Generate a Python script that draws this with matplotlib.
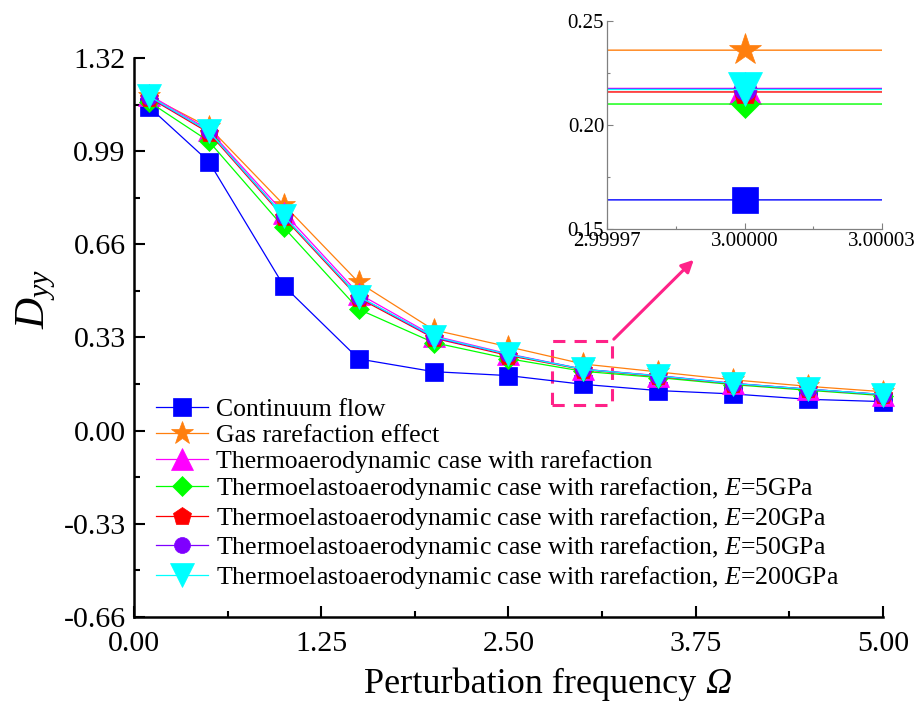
import matplotlib
matplotlib.use("Agg")
import matplotlib.pyplot as plt
from matplotlib.patches import Rectangle, FancyArrowPatch
from matplotlib.ticker import FixedLocator, MultipleLocator

plt.rcParams['font.family'] = ['Liberation Serif', 'DejaVu Serif']
plt.rcParams['mathtext.fontset'] = 'custom'
plt.rcParams['mathtext.rm'] = 'Liberation Serif'
plt.rcParams['mathtext.it'] = 'Liberation Serif:italic'

# Perturbation frequency and damping coefficient D_yy for each case
omega = [0.1, 0.5, 1.0, 1.5, 2.0, 2.5, 3.0, 3.5, 4.0, 4.5, 5.0]
continuum = [1.147, 0.953, 0.513, 0.254, 0.209, 0.195, 0.164, 0.142, 0.130, 0.111, 0.103]
rarefied = [1.185, 1.075, 0.800, 0.525, 0.357, 0.297, 0.236, 0.208, 0.180, 0.157, 0.138]
thermo = [1.190, 1.065, 0.772, 0.485, 0.336, 0.272, 0.2176, 0.195, 0.168, 0.147, 0.128]
e5 = [1.165, 1.025, 0.720, 0.430, 0.312, 0.255, 0.2101, 0.188, 0.163, 0.143, 0.124]
e20 = [1.180, 1.055, 0.755, 0.470, 0.328, 0.266, 0.2159, 0.192, 0.166, 0.146, 0.127]
e50 = [1.182, 1.060, 0.760, 0.475, 0.330, 0.270, 0.2173, 0.194, 0.167, 0.147, 0.128]
e200 = [1.185, 1.060, 0.760, 0.475, 0.333, 0.270, 0.2171, 0.194, 0.167, 0.147, 0.128]

labels = [
    'Continuum flow',
    'Gas rarefaction effect',
    'Thermoaerodynamic case with rarefaction',
    'Thermoelastoaerodynamic case with rarefaction, $E$=5GPa',
    'Thermoelastoaerodynamic case with rarefaction, $E$=20GPa',
    'Thermoelastoaerodynamic case with rarefaction, $E$=50GPa',
    'Thermoelastoaerodynamic case with rarefaction, $E$=200GPa',
]
series = [continuum, rarefied, thermo, e5, e20, e50, e200]
colors = ['#0000FF', '#FF7F0E', '#FF00FF', '#00FF00', '#FF0000', '#7F00FF', '#00FFFF']
markers = ['s', '*', '^', 'D', 'p', 'o', 'v']
msizes = [13, 17, 16, 10, 13.5, 11.5, 17]

x_ticks = [0.00, 1.25, 2.50, 3.75, 5.00]
y_ticks = [-0.66, -0.33, 0.00, 0.33, 0.66, 0.99, 1.32]
inset_x_ticks = [2.99997, 3.00000, 3.00003]
inset_y_ticks = [0.15, 0.20, 0.25]

fig = plt.figure(figsize=(9.15, 7.02), dpi=100)
ax = fig.add_axes([0.1464, 0.1211, 0.8186, 0.7963])

for ys, lab, c, m, ms in zip(series, labels, colors, markers, msizes):
    ax.plot(omega, ys, color=c, lw=0.9, marker=m, ms=ms, mec=c, mew=0.5,
            label=lab, clip_on=False)

ax.set_xlim(0, 5)
ax.set_ylim(-0.66, 1.32)
ax.xaxis.set_major_locator(FixedLocator(x_ticks))
ax.xaxis.set_minor_locator(MultipleLocator(0.625))
ax.yaxis.set_major_locator(FixedLocator(y_ticks))
ax.yaxis.set_minor_locator(MultipleLocator(0.165))
ax.set_xticklabels([f'{v:.2f}' for v in x_ticks])
ax.set_yticklabels([f'{v:.2f}' for v in y_ticks])
ax.tick_params(which='major', direction='in', length=8, width=1.5, labelsize=21.5)
ax.tick_params(axis='y', which='major', pad=6)
ax.tick_params(axis='x', which='major', pad=10)
ax.tick_params(which='minor', direction='in', length=4, width=1.5)
for s in ['top', 'right']:
    ax.spines[s].set_visible(False)
for s in ['left', 'bottom']:
    ax.spines[s].set_linewidth(1.8)

ax.set_ylabel('$D_{yy}$', fontsize=31, labelpad=4)
ax.yaxis.set_label_coords(-0.102, 0.57)
xl = ax.set_xlabel('Perturbation frequency ', fontsize=26)
ax.xaxis.set_label_coords(0.535, -0.09)
ax.annotate('Ω', xy=(1, 0), xycoords=xl, va='bottom', ha='left',
            fontsize=26, style='italic')

leg = ax.legend(loc='upper left', bbox_to_anchor=(0.03, 0.391), frameon=False,
                fontsize=18.5, handlelength=2.0, handletextpad=0.3,
                labelspacing=0.1, borderpad=0, borderaxespad=0)

# dashed box around the Omega = 3 points and the arrow to the zoomed view
pink = '#FF2288'
ax.add_patch(Rectangle((2.79, 0.09), 0.40, 0.227, fill=False, ec=pink,
                       lw=2.2, ls=(0, (4, 3))))
arrow = FancyArrowPatch((3.19, 0.317), (3.75, 0.612), transform=ax.transData,
                        arrowstyle='-|>', mutation_scale=18, color=pink, lw=2.2)
ax.add_patch(arrow)

# zoomed view at Omega = 3
axi = fig.add_axes([0.6634, 0.6738, 0.3006, 0.2962])
for ys, c, m, ms in zip(series, colors, markers, msizes):
    axi.plot(omega, ys, color=c, lw=1.0, marker=m, ms=ms * 1.4, mec=c, mew=0.5)
axi.set_xlim(2.99997, 3.00003)
axi.set_ylim(0.15, 0.25)
axi.xaxis.set_major_locator(FixedLocator(inset_x_ticks))
axi.xaxis.set_minor_locator(FixedLocator([2.999985, 3.000015]))
axi.yaxis.set_major_locator(FixedLocator(inset_y_ticks))
axi.yaxis.set_minor_locator(FixedLocator([0.175, 0.225]))
axi.set_xticklabels([f'{v:.5f}' for v in inset_x_ticks])
axi.set_yticklabels([f'{v:.2f}' for v in inset_y_ticks])
axi.tick_params(which='major', direction='in', length=4, width=0.8, color='#808080',
                labelsize=15, pad=2)
axi.tick_params(which='minor', direction='in', length=2.5, width=0.8, color='#808080')
for s in ['top', 'right']:
    axi.spines[s].set_visible(False)
for s in ['left', 'bottom']:
    axi.spines[s].set_color('#808080')
    axi.spines[s].set_linewidth(0.9)

fig.savefig('out.png', dpi=100)
